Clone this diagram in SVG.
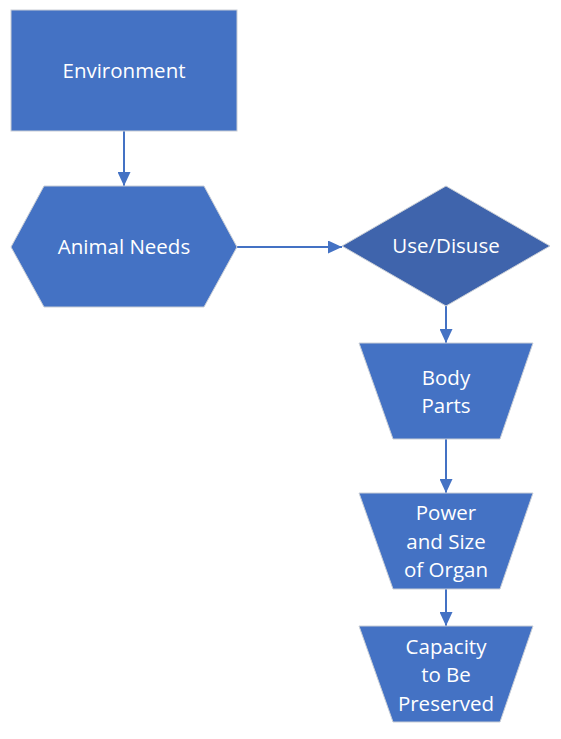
<svg xmlns="http://www.w3.org/2000/svg" width="561" height="739" viewBox="0 0 561 739">
<style>
.s{fill:#4472C4;stroke:#C9CED6;stroke-width:1}
.d{fill:#3F64AC;stroke:#C9CED6;stroke-width:1}
.t{fill:#FFFFFF;font-family:"Open Sans","Noto Sans",sans-serif;font-size:20.5px;text-anchor:middle}
.c{stroke:#4472C4;stroke-width:2;fill:none}
</style>
<defs>
<marker id="ah" markerWidth="14" markerHeight="13" refX="14" refY="6.5" orient="auto" markerUnits="userSpaceOnUse">
<path d="M0,0 L14,6.5 L0,13 Z" fill="#4472C4"/>
</marker>
</defs>
<rect width="561" height="739" fill="#FFFFFF"/>
<g id="connectors">
<line class="c" x1="124" y1="131" x2="124" y2="186" marker-end="url(#ah)"/>
<line class="c" x1="237" y1="247" x2="342" y2="247" marker-end="url(#ah)"/>
<line class="c" x1="446" y1="306" x2="446" y2="343" marker-end="url(#ah)"/>
<line class="c" x1="446" y1="439" x2="446" y2="493" marker-end="url(#ah)"/>
<line class="c" x1="446" y1="589" x2="446" y2="626" marker-end="url(#ah)"/>
</g>
<g id="environment">
<rect class="s" x="11" y="10" width="226" height="121"/>
<text class="t" x="124" y="78">Environment</text>
</g>
<g id="animal-needs">
<polygon class="s" points="44,186 204,186 237,247 204,307 44,307 11,247"/>
<text class="t" x="124" y="254">Animal Needs</text>
</g>
<g id="use-disuse">
<polygon class="d" points="446,186 550,246 446,306 342,246"/>
<text class="t" x="446" y="253">Use/Disuse</text>
</g>
<g id="body-parts">
<polygon class="s" points="359,343 533,343 500,439 393,439"/>
<text class="t" x="446" y="385">Body</text>
<text class="t" x="446" y="413">Parts</text>
</g>
<g id="power-size">
<polygon class="s" points="359,493 533,493 500,589 393,589"/>
<text class="t" x="446" y="520">Power</text>
<text class="t" x="446" y="549">and Size</text>
<text class="t" x="446" y="577">of Organ</text>
</g>
<g id="capacity">
<polygon class="s" points="359,626 533,626 500,722 393,722"/>
<text class="t" x="446" y="654">Capacity</text>
<text class="t" x="446" y="682">to Be</text>
<text class="t" x="446" y="711">Preserved</text>
</g>
</svg>
